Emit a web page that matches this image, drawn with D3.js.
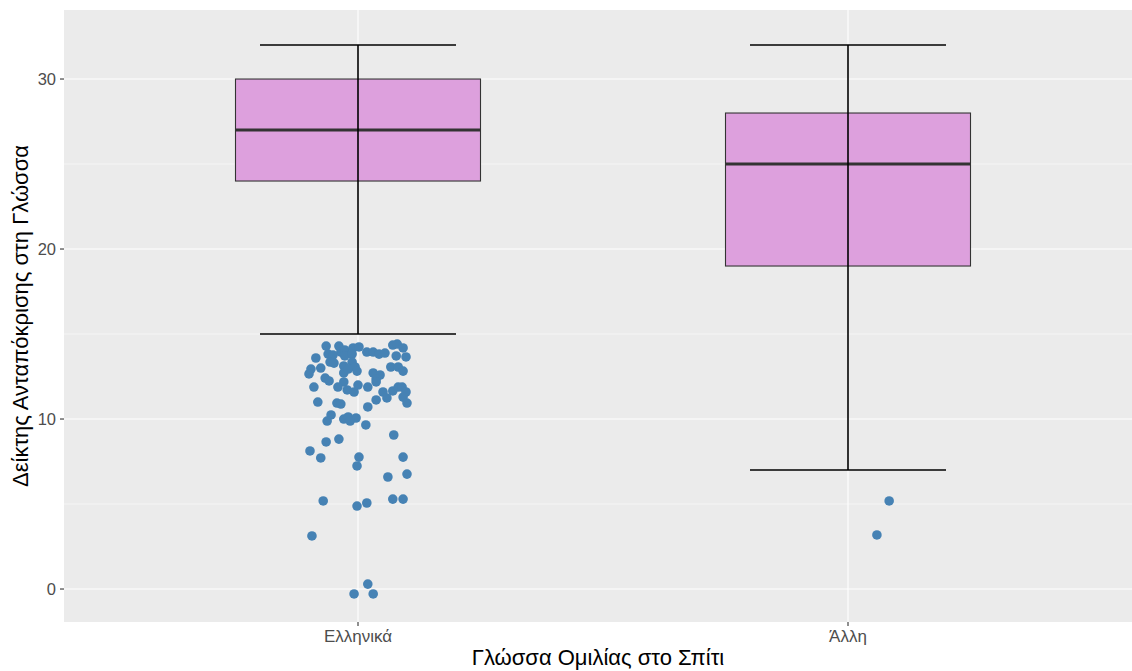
<!DOCTYPE html>
<html><head><meta charset="utf-8">
<script src="https://cdn.jsdelivr.net/npm/d3@7"></script>
<style>body{margin:0;background:#fff}svg{display:block}text{font-family:"Liberation Sans",Arial,Helvetica,sans-serif}</style>
</head><body><svg id="c" width="1132" height="671"></svg>
<script>
const categories = ["Ελληνικά", "Άλλη"];
const boxLower = [24, 19];
const boxMedian = [27, 25];
const boxUpper = [30, 28];
const whiskerLow = [15, 7];
const whiskerHigh = [32, 32];
const yTicks = [0, 10, 20, 30];
const yMinor = [5, 15, 25];
// outlier points: [category index, jitter offset (category units), value]
const outliers = [
 [0,-0.065,14.29],[0,-0.039,14.29],[0,-0.035,13.94],[0,-0.027,14.06],[0,-0.010,14.18],[0,0.002,14.24],
 [0,0.018,13.94],[0,0.031,13.94],[0,0.043,13.82],[0,0.055,13.88],[0,0.071,14.35],[0,0.080,14.41],
 [0,0.092,14.18],[0,-0.086,13.59],[0,-0.061,13.82],[0,-0.051,13.76],[0,-0.027,13.71],[0,-0.012,13.82],
 [0,0.078,13.71],[0,0.098,13.65],[0,-0.057,13.35],[0,-0.049,13.29],[0,-0.012,13.35],[0,-0.029,13.12],
 [0,-0.006,13.06],[0,-0.096,12.94],[0,-0.076,13.00],[0,0.067,13.06],[0,0.082,13.06],[0,-0.100,12.65],
 [0,-0.029,12.71],[0,-0.020,12.94],[0,-0.002,12.82],[0,0.031,12.71],[0,0.045,12.59],[0,0.037,12.35],
 [0,0.092,12.82],[0,-0.067,12.41],[0,-0.059,12.24],[0,-0.029,12.18],[0,-0.090,11.88],[0,-0.041,11.88],
 [0,-0.022,11.71],[0,-0.008,11.59],[0,0.000,12.00],[0,0.020,11.88],[0,0.037,12.18],[0,0.051,11.59],
 [0,0.071,11.65],[0,0.082,11.88],[0,0.090,11.88],[0,0.098,11.59],[0,0.059,11.24],[0,0.092,11.29],
 [0,0.100,10.94],[0,-0.082,11.00],[0,-0.043,10.94],[0,-0.035,10.88],[0,0.037,11.12],[0,0.020,10.71],
 [0,-0.055,10.24],[0,-0.063,9.88],[0,-0.029,10.00],[0,-0.020,10.12],[0,-0.004,10.06],[0,-0.016,9.88],
 [0,0.016,9.65],[0,-0.065,8.65],[0,-0.039,8.82],[0,0.073,9.06],[0,-0.098,8.12],[0,-0.076,7.71],
 [0,0.002,7.76],[0,-0.002,7.24],[0,0.092,7.76],[0,0.061,6.59],[0,0.100,6.76],[0,-0.071,5.18],
 [0,-0.002,4.88],[0,0.018,5.06],[0,0.071,5.29],[0,0.092,5.29],[0,-0.094,3.12],[0,0.020,0.29],
 [0,-0.008,-0.29],[0,0.031,-0.29],
 [1,0.084,5.18],[1,0.059,3.18]
];
const xTitle = "Γλώσσα Ομιλίας στο Σπίτι";
const yTitle = "Δείκτης Ανταπόκρισης στη Γλώσσα";

const svg = d3.select("#c");
const P = {l:64, r:1142, t:10, b:622};
const x = d3.scaleLinear().domain([-0.6, 1.6]).range([P.l, P.r]);
const y = d3.scaleLinear().domain([-1.94, 34.06]).range([P.b, P.t]);

svg.append("rect").attr("x",P.l).attr("y",P.t).attr("width",P.r-P.l).attr("height",P.b-P.t).attr("fill","#EBEBEB");
const g = svg.append("g");
g.selectAll(".ymin").data(yMinor).join("line").attr("x1",P.l).attr("x2",P.r)
 .attr("y1",d=>y(d)).attr("y2",d=>y(d)).attr("stroke","#fff").attr("stroke-width",0.55);
g.selectAll(".ymaj").data(yTicks).join("line").attr("x1",P.l).attr("x2",P.r)
 .attr("y1",d=>y(d)).attr("y2",d=>y(d)).attr("stroke","#fff").attr("stroke-width",1.1);
g.selectAll(".xmaj").data(categories).join("line").attr("y1",P.t).attr("y2",P.b)
 .attr("x1",(d,i)=>x(i)).attr("x2",(d,i)=>x(i)).attr("stroke","#fff").attr("stroke-width",1.1);

const bw = 0.25;
categories.forEach((c,i)=>{
  g.append("rect").attr("x",x(i-bw)).attr("width",x(i+bw)-x(i-bw))
   .attr("y",y(boxUpper[i])).attr("height",y(boxLower[i])-y(boxUpper[i]))
   .attr("fill","#DDA0DD").attr("stroke","#333333").attr("stroke-width",1.1);
  g.append("line").attr("x1",x(i-bw)).attr("x2",x(i+bw)).attr("y1",y(boxMedian[i])).attr("y2",y(boxMedian[i]))
   .attr("stroke","#333333").attr("stroke-width",3);
});
const cw = 0.2;
categories.forEach((c,i)=>{
  g.append("line").attr("x1",x(i)).attr("x2",x(i)).attr("y1",y(whiskerLow[i])).attr("y2",y(whiskerHigh[i]))
   .attr("stroke","#000").attr("stroke-width",1.6);
  [whiskerLow[i], whiskerHigh[i]].forEach(v=>{
    g.append("line").attr("x1",x(i-cw)).attr("x2",x(i+cw)).attr("y1",y(v)).attr("y2",y(v))
     .attr("stroke","#000").attr("stroke-width",1.6);
  });
});
g.selectAll(".pt").data(outliers).join("circle")
 .attr("cx",d=>x(d[0]+d[1])).attr("cy",d=>y(d[2])).attr("r",4.8).attr("fill","#4682B4");

const ya = svg.append("g");
yTicks.forEach(t=>{
  ya.append("line").attr("x1",P.l-4).attr("x2",P.l).attr("y1",y(t)).attr("y2",y(t)).attr("stroke","#333").attr("stroke-width",1.1);
  ya.append("text").attr("x",P.l-8).attr("y",y(t)).attr("dy","0.36em").attr("text-anchor","end")
   .attr("font-size",16.5).attr("fill","#4D4D4D").text(t);
});
categories.forEach((c,i)=>{
  svg.append("line").attr("x1",x(i)).attr("x2",x(i)).attr("y1",P.b).attr("y2",P.b+4).attr("stroke","#333").attr("stroke-width",1.1);
  svg.append("text").attr("x",x(i)).attr("y",P.b+20).attr("text-anchor","middle")
   .attr("font-size",17).attr("fill","#4D4D4D").text(c);
});
svg.append("text").attr("x",(P.l+P.r)/2 - 5).attr("y",665).attr("text-anchor","middle")
 .attr("font-size",22).attr("fill","#000").text(xTitle);
svg.append("text").attr("transform",`translate(28,${(P.t+P.b)/2}) rotate(-90)`).attr("text-anchor","middle")
 .attr("font-size",22).attr("fill","#000").text(yTitle);
</script></body></html>
